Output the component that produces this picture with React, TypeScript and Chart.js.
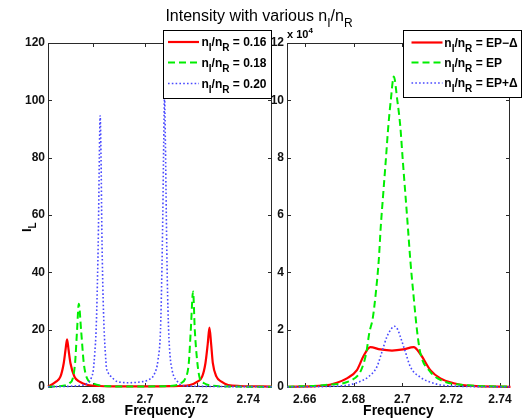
import React, { useEffect, useRef } from "react";
import { Chart, registerables } from "chart.js";

Chart.register(...registerables);

const FONT = "'Liberation Sans', Arial, Helvetica, sans-serif";

// ---------------- data ----------------
// Left panel: I_L for n_I/n_R = 0.16, 0.18, 0.20
const leftFreqRed = [2.66245, 2.66361, 2.66555, 2.66726, 2.66854, 2.66924, 2.66983, 2.67041, 2.67115, 2.6727, 2.67464, 2.67786, 2.68252, 2.69029, 2.7, 2.70971, 2.71736, 2.72031, 2.72214, 2.72342, 2.72431, 2.72497, 2.72563, 2.72629, 2.72769, 2.72963, 2.73223, 2.73689, 2.7492];
const leftRed = [0.15, 0.7, 1.86, 3.6, 8.3, 13, 16.65, 13, 8.3, 3.6, 1.86, 0.7, 0.35, 0.2, 0.2, 0.3, 0.7, 1.86, 3.6, 8.3, 15, 20.7, 15, 8.3, 3.6, 1.86, 0.7, 0.35, 0.15];

const leftFreqGreen = [2.66245, 2.66882, 2.67076, 2.67204, 2.67293, 2.67371, 2.67437, 2.67526, 2.67631, 2.67759, 2.67981, 2.68303, 2.69029, 2.7, 2.70777, 2.71153, 2.71386, 2.71565, 2.71697, 2.71775, 2.71864, 2.7193, 2.72031, 2.72124, 2.72291, 2.72575, 2.73301, 2.7492];
const leftGreen = [0.1, 0.5, 1.3, 3.0, 8.3, 19.9, 29, 19.9, 8.3, 3.0, 1.3, 0.5, 0.2, 0.2, 0.3, 0.5, 1.3, 3.0, 8.3, 19.9, 33.3, 19.9, 8.3, 3.0, 1.3, 0.5, 0.15, 0.1];

const leftFreqBlue = [2.66245, 2.67476, 2.67786, 2.67915, 2.68, 2.68058, 2.68109, 2.68155, 2.68198, 2.68233, 2.68264, 2.68299, 2.6833, 2.68369, 2.68419, 2.68466, 2.68505, 2.68583, 2.68691, 2.68951, 2.69417, 2.69845, 2.70116, 2.70377, 2.70505, 2.70602, 2.70648, 2.70691, 2.70726, 2.70757, 2.70792, 2.70827, 2.70866, 2.70916, 2.70971, 2.71049, 2.71126, 2.71216, 2.71398, 2.71748, 2.7492];
const leftBlue = [0.1, 0.5, 1.4, 3, 6, 12, 20, 35, 55, 80, 94.6, 80, 55, 35, 20, 12, 7, 4.8, 3.6, 1.8, 1.5, 1.8, 2.4, 4.8, 9.4, 20, 37, 60, 85, 101, 85, 60, 37, 20, 11, 6, 3.5, 2.4, 0.7, 0.3, 0.1];

// Right panel: n_I/n_R = EP-Δ, EP, EP+Δ (raw values, axis shown in units of 10^4)
const rightFreqRed = [2.65292, 2.66769, 2.67319, 2.67729, 2.68139, 2.6841, 2.68685, 2.69095, 2.69575, 2.70039, 2.70462, 2.70736, 2.71147, 2.71557, 2.72103, 2.72652, 2.74429];
const rightRed = [50, 450, 1500, 3000, 5900, 10800, 13900, 13100, 12700, 13100, 13900, 11500, 5900, 3000, 1300, 450, 50];

const rightFreqGreen = [2.65292, 2.66839, 2.67947, 2.68316, 2.68521, 2.68644, 2.68788, 2.68911, 2.69034, 2.69116, 2.69218, 2.69321, 2.69424, 2.69526, 2.69649, 2.69793, 2.69916, 2.70018, 2.70121, 2.70224, 2.70326, 2.70449, 2.70613, 2.70736, 2.71147, 2.71557, 2.72501, 2.74429];
const rightGreen = [100, 700, 2500, 6000, 11900, 18800, 24000, 32700, 44300, 56000, 67600, 79000, 90900, 100000, 108300, 100000, 90900, 79000, 67600, 56000, 44300, 32700, 18800, 11900, 5300, 2500, 700, 100];

const rightFreqBlue = [2.65292, 2.6759, 2.68139, 2.68615, 2.6896, 2.69165, 2.6937, 2.69526, 2.6967, 2.69813, 2.69916, 2.70121, 2.70326, 2.70736, 2.71282, 2.71832, 2.74429];
const rightBlue = [20, 450, 1500, 3600, 7100, 12300, 17600, 20000, 21200, 20000, 17600, 12300, 7100, 3400, 1300, 450, 20];

const leftXTicks = [2.68, 2.7, 2.72, 2.74];
const rightXTicks = [2.66, 2.68, 2.7, 2.72, 2.74];
const leftYTicks = [0, 20, 40, 60, 80, 100, 120];
const rightYTicks = [0, 20000, 40000, 60000, 80000, 100000, 120000];
const leftLegendValues = ["0.16", "0.18", "0.20"];
const rightLegendValues = ["EP\u2212\u0394", "EP", "EP+\u0394"];
const titleMain = "Intensity with various n";
const xTitle = "Frequency";
const yTitleMain = "I";
const yTitleSub = "L";

// ---------------- styles ----------------
const seriesStyles = [
  { color: "#ff0000", width: 2.2, dash: [] as number[] },
  { color: "#00ee00", width: 2, dash: [7, 4] },
  { color: "#4848ff", width: 1.6, dash: [1.6, 2.2] },
];

type Part = { t: string; size: number; dy?: number; weight?: string };

function drawRich(ctx: CanvasRenderingContext2D, parts: Part[], x: number, y: number, align: "left" | "center" = "left") {
  let w = 0;
  for (const p of parts) {
    ctx.font = `${p.weight || "bold"} ${p.size}px ${FONT}`;
    w += ctx.measureText(p.t).width;
  }
  let cx = align === "center" ? x - w / 2 : x;
  ctx.textAlign = "left";
  ctx.textBaseline = "alphabetic";
  for (const p of parts) {
    ctx.font = `${p.weight || "bold"} ${p.size}px ${FONT}`;
    ctx.fillText(p.t, cx, y + (p.dy || 0));
    cx += ctx.measureText(p.t).width;
  }
  return w;
}

function legendParts(v: string): Part[] {
  return [
    { t: "n", size: 12 },
    { t: "I", size: 10, dy: 5 },
    { t: "/n", size: 12 },
    { t: "R", size: 10, dy: 5 },
    { t: " = " + v, size: 12 },
  ];
}

type PanelCfg = {
  side: "left" | "right";
  area: { left: number; right: number; top: number; bottom: number };
  xMin: number;
  xMax: number;
  yMax: number;
  xTicks: number[];
  yTicks: number[];
  yFmt: (v: number) => string;
  xs: number[][];
  ys: number[][];
  legendValues: string[];
  legendBox: { x: number; y: number; w: number; h: number };
  sampleX: [number, number];
  textX: number;
  rows: number[];
};

function makePlugin(cfg: PanelCfg) {
  return {
    id: "decor_" + cfg.side,
    beforeDatasetsDraw(chart: any) {
      const { ctx, chartArea: a, scales } = chart;
      ctx.save();
      ctx.strokeStyle = "#2a2a2a";
      ctx.lineWidth = 1;
      ctx.setLineDash([]);
      ctx.strokeRect(a.left + 0.5, a.top + 0.5, a.right - a.left - 1, a.bottom - a.top - 1);
      ctx.beginPath();
      scales.x.ticks.forEach((t: any) => {
        const px = Math.round(scales.x.getPixelForValue(t.value)) + 0.5;
        ctx.moveTo(px, a.bottom);
        ctx.lineTo(px, a.bottom - 4);
        ctx.moveTo(px, a.top);
        ctx.lineTo(px, a.top + 4);
      });
      scales.y.ticks.forEach((t: any) => {
        const py = Math.round(scales.y.getPixelForValue(t.value)) + 0.5;
        ctx.moveTo(a.left, py);
        ctx.lineTo(a.left + 4, py);
        ctx.moveTo(a.right, py);
        ctx.lineTo(a.right - 4, py);
      });
      ctx.stroke();
      ctx.restore();
    },
    afterDraw(chart: any) {
      const { ctx, chartArea: a } = chart;
      ctx.save();
      // legend box
      const b = cfg.legendBox;
      ctx.fillStyle = "#fff";
      ctx.fillRect(b.x, b.y, b.w, b.h);
      ctx.strokeStyle = "#000";
      ctx.lineWidth = 1;
      ctx.setLineDash([]);
      ctx.strokeRect(b.x + 0.5, b.y + 0.5, b.w - 1, b.h - 1);
      cfg.legendValues.forEach((v, i) => {
        const st = seriesStyles[i];
        const y = cfg.rows[i];
        ctx.strokeStyle = st.color;
        ctx.lineWidth = st.width;
        ctx.setLineDash(st.dash);
        ctx.beginPath();
        ctx.moveTo(cfg.sampleX[0], y);
        ctx.lineTo(cfg.sampleX[1], y);
        ctx.stroke();
        ctx.setLineDash([]);
        ctx.fillStyle = "#000";
        drawRich(ctx, legendParts(v), cfg.textX, y + 4.3);
      });
      ctx.fillStyle = "#000";
      // x title
      ctx.font = `bold 14px ${FONT}`;
      ctx.textAlign = "center";
      ctx.textBaseline = "middle";
      ctx.fillText(xTitle, (a.left + a.right) / 2, 411.5);
      if (cfg.side === "left") {
        // main title
        drawRich(
          ctx,
          [
            { t: titleMain, size: 16, weight: "normal" },
            { t: "I", size: 12, dy: 6, weight: "normal" },
            { t: "/n", size: 16, weight: "normal" },
            { t: "R", size: 12, dy: 6, weight: "normal" },
          ],
          259,
          20.5,
          "center"
        );
        // y title, rotated
        ctx.save();
        ctx.translate(31, 232);
        ctx.rotate(-Math.PI / 2);
        drawRich(ctx, [
          { t: yTitleMain, size: 13 },
          { t: yTitleSub, size: 10, dy: 5 },
        ], 0, 0);
        ctx.restore();
      } else {
        // exponent label
        drawRich(ctx, [
          { t: "x 10", size: 11 },
          { t: "4", size: 8, dy: -5 },
        ], a.left, 38.3);
      }
      ctx.restore();
    },
  };
}

function buildChart(canvas: HTMLCanvasElement, cfg: PanelCfg) {
  const W = 526;
  const H = 420;
  const datasets = cfg.xs.map((xs, i) => ({
    label: cfg.legendValues[i],
    data: xs.map((x, j) => ({ x, y: cfg.ys[i][j] })),
    borderColor: seriesStyles[i].color,
    borderWidth: seriesStyles[i].width,
    borderDash: seriesStyles[i].dash,
    pointRadius: 0,
    fill: false,
    cubicInterpolationMode: "monotone" as const,
    clip: 2,
    order: 3 - i,
  }));
  const tickFont = { family: FONT, size: 12, weight: "bold" as const };
  return new Chart(canvas, {
    type: "line",
    data: { datasets },
    options: {
      responsive: false,
      animation: false,
      devicePixelRatio: 1,
      layout: { padding: { left: 0, right: W - cfg.area.right, top: cfg.area.top, bottom: 0 } },
      plugins: { legend: { display: false }, title: { display: false }, tooltip: { enabled: false } },
      events: [],
      scales: {
        x: {
          type: "linear",
          min: cfg.xMin,
          max: cfg.xMax,
          afterBuildTicks: (s: any) => {
            s.ticks = cfg.xTicks.map((v) => ({ value: v }));
          },
          afterFit: (s: any) => {
            s.height = H - cfg.area.bottom;
          },
          grid: { display: false, drawTicks: false },
          border: { display: false },
          ticks: {
            font: tickFont,
            color: "#111",
            padding: 5,
            maxRotation: 0,
            autoSkip: false,
            callback: (v: any) => String(parseFloat(Number(v).toFixed(2))),
          },
        },
        y: {
          type: "linear",
          min: 0,
          max: cfg.yMax,
          afterBuildTicks: (s: any) => {
            s.ticks = cfg.yTicks.map((v) => ({ value: v }));
          },
          afterFit: (s: any) => {
            s.width = cfg.area.left;
          },
          grid: { display: false, drawTicks: false },
          border: { display: false },
          ticks: {
            font: tickFont,
            color: "#111",
            padding: 3,
            autoSkip: false,
            callback: (v: any) => cfg.yFmt(Number(v)),
          },
        },
      },
    },
    plugins: [makePlugin(cfg)],
  } as any);
}

const leftCfg: PanelCfg = {
  side: "left",
  area: { left: 48, right: 272, top: 43, bottom: 387 },
  xMin: 2.66245,
  xMax: 2.7492,
  yMax: 120,
  xTicks: leftXTicks,
  yTicks: leftYTicks,
  yFmt: (v) => String(v),
  xs: [leftFreqRed, leftFreqGreen, leftFreqBlue],
  ys: [leftRed, leftGreen, leftBlue],
  legendValues: leftLegendValues,
  legendBox: { x: 163, y: 30, w: 109, h: 69 },
  sampleX: [168, 199],
  textX: 201.5,
  rows: [42, 62.5, 83.5],
};

const rightCfg: PanelCfg = {
  side: "right",
  area: { left: 287, right: 510, top: 43, bottom: 387 },
  xMin: 2.65274,
  xMax: 2.7441,
  yMax: 120000,
  xTicks: rightXTicks,
  yTicks: rightYTicks,
  yFmt: (v) => String(Math.round(v / 10000)),
  xs: [rightFreqRed, rightFreqGreen, rightFreqBlue],
  ys: [rightRed, rightGreen, rightBlue],
  legendValues: rightLegendValues,
  legendBox: { x: 403, y: 30, w: 119, h: 68 },
  sampleX: [411.5, 442.5],
  textX: 444.3,
  rows: [42.5, 62.5, 83],
};

export default function App() {
  const leftRef = useRef<HTMLCanvasElement | null>(null);
  const rightRef = useRef<HTMLCanvasElement | null>(null);

  useEffect(() => {
    const c1 = leftRef.current ? buildChart(leftRef.current, leftCfg) : null;
    const c2 = rightRef.current ? buildChart(rightRef.current, rightCfg) : null;
    return () => {
      c1?.destroy();
      c2?.destroy();
    };
  }, []);

  const canvasStyle: React.CSSProperties = { position: "absolute", left: 0, top: 0, width: 526, height: 420 };
  return (
    <div style={{ position: "absolute", left: 0, top: 0, width: 526, height: 420, background: "#fff" }}>
      <canvas ref={leftRef} width={526} height={420} style={canvasStyle} />
      <canvas ref={rightRef} width={526} height={420} style={canvasStyle} />
    </div>
  );
}
